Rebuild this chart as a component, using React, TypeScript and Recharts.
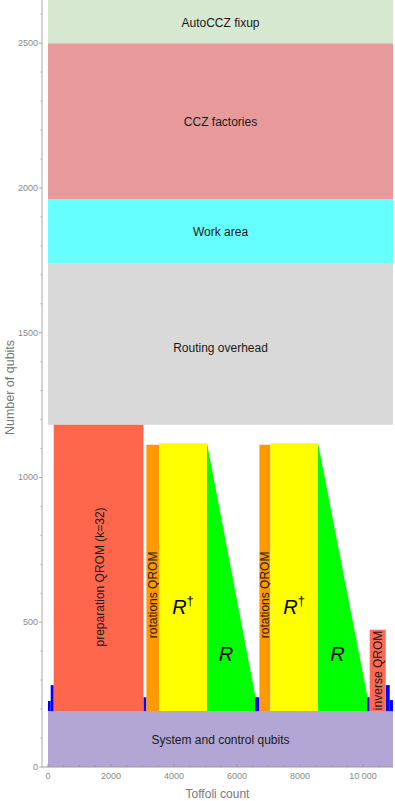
import React from "react";
import { Area, ComposedChart, Label, ReferenceArea, XAxis, YAxis } from "recharts";

// qubit layers stacked over the whole run
const layerNames = ["System and control qubits", "Routing overhead", "Work area", "CCZ factories", "AutoCCZ fixup"];
const layerLow = [0, 1182, 1741, 1961, 2500];
const layerHigh = [193, 1741, 1961, 2500, 2649];

// algorithm stages (rectangles on top of the system qubits)
const stageNames = ["preparation QROM (k=32)", "rotations QROM", "R†", "rotations QROM", "R†", "inverse QROM"];
const stageStart = [181, 3124, 3524, 6711, 7060, 10213];
const stageEnd = [3029, 3524, 5048, 7060, 8571, 10721];
const stageTop = [1182, 1113, 1118, 1113, 1118, 474];

// R rotations: shrinking register
const rotStart = [5048, 8571];
const rotEnd = [6571, 10127];
const rotTopStart = [1118, 1118];
const rotTopEnd = [250, 250];

// small ancilla blips between stages
const ancStart = [0, 86, 3029, 6571, 10127, 10721, 10848];
const ancEnd = [86, 181, 3124, 6711, 10213, 10848, 10952];
const ancTop = [228, 283, 241, 241, 241, 283, 231];

const yTicks = [0, 100, 200, 300, 400, 500, 600, 700, 800, 900, 1000, 1100, 1200, 1300, 1400, 1500, 1600, 1700, 1800, 1900, 2000, 2100, 2200, 2300, 2400, 2500, 2600];
const xTicks = [0, 500, 1000, 1500, 2000, 2500, 3000, 3500, 4000, 4500, 5000, 5500, 6000, 6500, 7000, 7500, 8000, 8500, 9000, 9500, 10000, 10500];

const SYS_TOP = layerHigh[0];
const X_MIN = -190;
const X_MAX = 10952;
const Y_MAX = 2649;

const FONT = "'Liberation Sans', Arial, sans-serif";
const layerColors = ["#b1a6d4", "#d9d9d9", "#66ffff", "#e89a9a", "#d6e8d0"];
const stageColors = ["#ff674d", "#ff9900", "#ffff00", "#ff9900", "#ffff00", "#ff6a55"];
// label tweaks: [dx, dy, rotated]
const stageLabelOffsets: [number, number, boolean][] = [
  [1, 9, true],
  [0, 17, true],
  [0, 30, false],
  [0, 17, true],
  [0, 30, false],
  [0, 0, true],
];

const fmtX = (v: number) => (v === 10000 ? "10 000" : String(v));

function boxLabel(text: string, dx = 0, dy = 0, rotated = false, dyGlobal = 0) {
  return (props: any) => {
    const vb = props.viewBox || {};
    const cx = vb.x + vb.width / 2 + dx;
    const cy = vb.y + vb.height / 2 + dy + dyGlobal;
    if (text === "R†" || text === "R") {
      return (
        <text x={cx} y={cy} textAnchor="middle" dominantBaseline="central" fontFamily={FONT} fontSize={20} fill="#000">
          <tspan fontStyle="italic">R</tspan>
          {text === "R†" && (
            <tspan dy={-7} fontSize={13}>
              †
            </tspan>
          )}
        </text>
      );
    }
    return (
      <text
        x={cx}
        y={cy}
        textAnchor="middle"
        dominantBaseline="central"
        fontFamily={FONT}
        fontSize={12}
        fill="#1a1a1a"
        transform={rotated ? `rotate(-90 ${cx} ${cy})` : undefined}
      >
        {text}
      </text>
    );
  };
}

const YTick = (props: any) => {
  const { x, y, payload } = props;
  const major = payload.value % 500 === 0;
  return (
    <g>
      <line x1={x} x2={x - (major ? 3 : 1.5)} y1={y} y2={y} stroke="#aaa" />
      {major && (
        <text x={x - 4} y={y} textAnchor="end" dominantBaseline="central" fontFamily={FONT} fontSize={9} fill="#888">
          {payload.value}
        </text>
      )}
    </g>
  );
};

const XTick = (props: any) => {
  const { x, y, payload } = props;
  const major = payload.value % 2000 === 0;
  return (
    <g>
      <line x1={x} x2={x} y1={y} y2={y - (major ? 3 : 2)} stroke="#999" />
      {major && (
        <text x={x} y={y + 9} textAnchor="middle" dominantBaseline="central" fontFamily={FONT} fontSize={9} fill="#888">
          {fmtX(payload.value)}
        </text>
      )}
    </g>
  );
};

export default function App() {
  const rotData = rotStart.map((s, i) => [
    { x: s, band: [SYS_TOP, rotTopStart[i]] },
    { x: rotEnd[i], band: [SYS_TOP, rotTopEnd[i]] },
  ]);

  return (
    <div style={{ position: "absolute", left: 0, top: 0, width: 395, height: 801, background: "#fff" }}>
      <ComposedChart width={395} height={801} margin={{ top: 0, right: 2, bottom: 0, left: 0 }}>
        <XAxis
          type="number"
          dataKey="x"
          domain={[X_MIN, X_MAX]}
          allowDataOverflow
          ticks={xTicks}
          interval={0}
          height={34}
          tickSize={0}
          tickMargin={0}
          tick={<XTick />}
          stroke="#999"
        >
          <Label
            content={(p: any) => {
              const vb = p.viewBox;
              return (
                <text x={vb.x + vb.width / 2} y={vb.y + 27} textAnchor="middle" dominantBaseline="central" fontFamily={FONT} fontSize={12} fill="#777">
                  Toffoli count
                </text>
              );
            }}
          />
        </XAxis>
        <YAxis
          type="number"
          domain={[0, Y_MAX]}
          allowDataOverflow
          ticks={yTicks}
          interval={0}
          width={42}
          tickSize={0}
          tickMargin={0}
          tick={<YTick />}
          stroke="#aaa"
        >
          <Label
            content={(p: any) => {
              const vb = p.viewBox;
              const cx = 10;
              const cy = vb.y + vb.height / 2 + 4;
              return (
                <text x={cx} y={cy} textAnchor="middle" dominantBaseline="central" fontFamily={FONT} fontSize={12.5} fill="#777" transform={`rotate(-90 ${cx} ${cy})`}>
                  Number of qubits
                </text>
              );
            }}
          />
        </YAxis>

        {layerNames.map((name, i) => (
          <ReferenceArea
            key={"layer" + i}
            x1={0}
            x2={X_MAX}
            y1={layerLow[i]}
            y2={layerHigh[i]}
            fill={layerColors[i]}
            fillOpacity={1}
            stroke="none"
            ifOverflow="hidden"
            label={boxLabel(name, 0, i === 1 ? 4 : 1)}
          />
        ))}

        {ancStart.map((s, i) => (
          <ReferenceArea
            key={"anc" + i}
            x1={s}
            x2={ancEnd[i]}
            y1={SYS_TOP}
            y2={ancTop[i]}
            fill="#0000ff"
            fillOpacity={1}
            stroke="none"
            ifOverflow="hidden"
          />
        ))}

        {rotData.map((d, i) => (
          <Area
            key={"rot" + i}
            data={d}
            dataKey="band"
            type="linear"
            stroke="none"
            fill="#00ff00"
            fillOpacity={1}
            dot={false}
            activeDot={false}
            isAnimationActive={false}
          />
        ))}

        {stageNames.map((name, i) => (
          <ReferenceArea
            key={"stage" + i}
            x1={stageStart[i]}
            x2={stageEnd[i]}
            y1={SYS_TOP}
            y2={stageTop[i]}
            fill={stageColors[i]}
            fillOpacity={1}
            stroke="none"
            ifOverflow="hidden"
            label={boxLabel(name, stageLabelOffsets[i][0], stageLabelOffsets[i][1], stageLabelOffsets[i][2])}
          />
        ))}

        {rotStart.map((s, i) => (
          <ReferenceArea
            key={"rlabel" + i}
            x1={s}
            x2={rotEnd[i]}
            y1={SYS_TOP}
            y2={rotTopStart[i]}
            fill="none"
            stroke="none"
            ifOverflow="hidden"
            label={boxLabel("R", -5, 77)}
          />
        ))}
      </ComposedChart>
    </div>
  );
}
